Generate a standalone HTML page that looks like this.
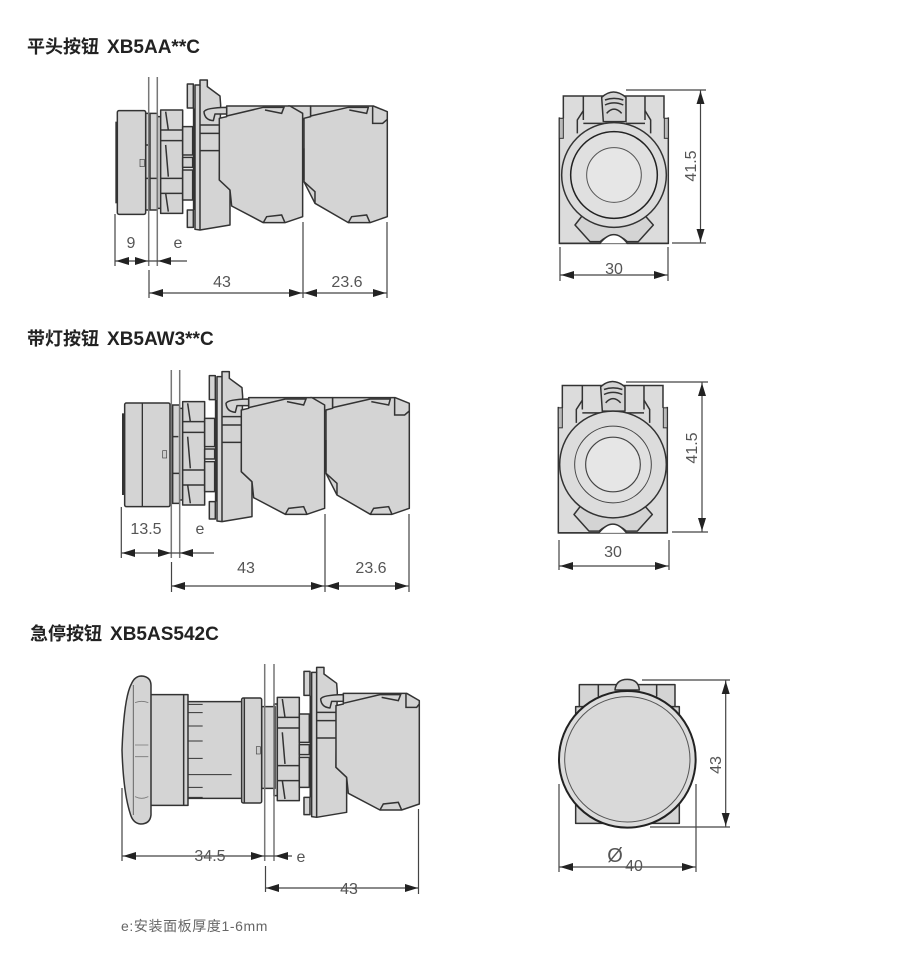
<!DOCTYPE html>
<html><head><meta charset="utf-8"><style>
html,body{margin:0;padding:0;background:#fff;width:900px;height:973px;overflow:hidden}
svg{position:absolute;left:0;top:0;display:block}
.t{font-family:"Liberation Sans","Noto Sans CJK SC",sans-serif;font-weight:700;font-size:18px;fill:#222}
.t tspan{font-size:19px}
.d{font-family:"Liberation Sans",sans-serif;font-size:16px;fill:#555;text-anchor:middle}
.f{fill:#d4d4d4;stroke:#333;stroke-width:4.5;stroke-linejoin:round}
.l{fill:none;stroke:#333;stroke-width:4.5}
.g{stroke:#777;stroke-width:1.5;fill:none}
.k{stroke:#444;stroke-width:1.2;fill:none}
</style></head><body>
<svg width="900" height="973" viewBox="0 0 900 973" xmlns="http://www.w3.org/2000/svg">
<defs>
<g id="rear">
<rect class="f" x="172" y="140" width="10" height="275"/>
<polygon class="f" points="182,120 248,120 248,430 182,430"/>
<path class="l" d="M182,180H248M182,212H248M182,325H248M182,370H248M197,125L205,180M197,370L205,425M197,225L205,320"/>
<rect class="f" x="248" y="170" width="30" height="85"/>
<rect class="f" x="248" y="262" width="30" height="30"/>
<rect class="f" x="248" y="300" width="30" height="90"/>
<rect class="f" x="262" y="42" width="18" height="72"/>
<rect class="f" x="262" y="420" width="18" height="52"/>
<path d="M282,115V420" stroke="#333" stroke-width="7"/>
<polygon class="f" points="285,45 300,45 300,30 322,30 322,50 360,78 362,105 360,190 358,330 390,360 390,465 300,480 285,478"/>
<path class="l" d="M300,45V480M300,190H358M300,242H358M300,165H358"/>
<path class="f" d="M358,145L380,140V108H570L608,130V440L555,458H490L395,408L390,360L358,330Z"/>
<path class="l" d="M380,138L490,112L552,112L545,130L495,120M490,458L500,440L545,435L555,458"/>
<path class="f" d="M312,125Q318,113 380,112V132H345L340,152Q314,150 312,125Z"/>
</g>
<g id="block2">
<path class="f" d="M565,108H632V140L608,150L565,150Z"/>
<path class="f" d="M612,145L632,140V108H820L862,125V440L810,458H745L645,400L612,335Z"/>
<path class="l" d="M632,138L745,112L805,112L800,130L748,120M745,458L755,440L800,435L810,458M818,108V160H848L862,148"/>
<path class="l" d="M612,335L645,365V400"/>
<path d="M609,235H614V330H609Z" fill="#333"/>
</g>
<g id="front">
<rect x="70" y="78" width="302" height="440" fill="#dcdcdc"/>
<rect x="58" y="142" width="327" height="378" fill="#dcdcdc"/>
<path class="l" d="M70,145V78H372V145M130,78V150M315,78V150M58,142V520H385V142"/>
<rect x="58" y="145" width="12" height="60" fill="#bbb" stroke="#333" stroke-width="3"/>
<rect x="373" y="145" width="12" height="60" fill="#bbb" stroke="#333" stroke-width="3"/>
<path class="l" d="M130,122L112,150V190M315,122L332,150V190M130,160H190M258,160H315"/>
<path class="f" d="M185,82Q220,50 258,82V155H190Z"/>
<path class="l" d="M195,90Q222,80 250,90M195,105Q222,92 250,105M200,130Q222,105 245,130"/>
<path class="f" d="M105,465L150,515H180Q222,478 262,515H295L340,465L300,420H140Z"/>
<path d="M58,520H180Q222,468 262,520H385" stroke="#333" stroke-width="4.5" fill="#fff"/>
<circle cx="222" cy="315" r="157" fill="#dcdcdc" stroke="#333" stroke-width="4.5"/>
<circle cx="222" cy="315" r="130" fill="#e0e0e0" stroke="#222" stroke-width="4.5"/>
<circle cx="222" cy="315" r="82" fill="#e6e6e6" stroke="#555" stroke-width="3"/>
</g>
<polygon id="ar" points="0,0 13,-4 13,4" fill="#222"/>
</defs>

<text class="t" x="27" y="53">平头按钮 <tspan dx="3">XB5AA**C</tspan></text>
<text class="t" x="27" y="345">带灯按钮 <tspan dx="3">XB5AW3**C</tspan></text>
<text class="t" x="30" y="640">急停按钮 <tspan dx="3">XB5AS542C</tspan></text>
<text x="121" y="931" style="font-family:'Liberation Sans','Noto Sans CJK SC',sans-serif;font-size:14px;letter-spacing:.6px;fill:#666">e:安装面板厚度1-6mm</text>

<!-- Section 1 side -->
<g transform="translate(100,70) scale(.3333)">
<use href="#block2"/><use href="#rear"/>
<rect class="f" x="137" y="130" width="35" height="290"/>
<path class="l" d="M137,225H150M137,325H170M150,130V420"/>
<rect class="f" x="52" y="122" width="85" height="311" rx="5"/>
<rect x="46" y="155" width="7" height="245" fill="#333"/>
<rect x="120" y="268" width="13" height="22" fill="#ccc" stroke="#444" stroke-width="2"/>
</g>
<!-- Section 2 side -->
<g transform="translate(110,360) scale(.3333)">
<g transform="translate(36,5)"><use href="#block2"/><use href="#rear"/></g>
<rect class="f" x="172" y="135" width="37" height="295"/>
<path class="l" d="M172,230H205M172,340H208M188,135V430"/>
<rect class="f" x="44" y="129" width="136" height="311" rx="5"/>
<path d="M97,129V440" stroke="#333" stroke-width="4"/>
<rect x="36" y="160" width="7" height="245" fill="#333"/>
<rect x="158" y="272" width="12" height="22" fill="#ccc" stroke="#444" stroke-width="2"/>
</g>
<!-- Section 3 side -->
<g transform="translate(100,660) scale(.3333)">
<g transform="translate(350,-8)"><use href="#rear"/>
<path class="l" d="M568,108V150H600L608,140"/></g>
<rect class="f" x="485" y="140" width="40" height="245"/>
<rect class="f" x="262" y="125" width="165" height="290"/>
<path d="M265,133H308M265,158H308M265,198H308M265,243H308M265,295H308M265,344H395M265,382H308M265,412H308" stroke="#333" stroke-width="3"/>
<rect class="f" x="425" y="114" width="60" height="315" rx="5"/>
<path class="l" d="M433,114V429"/>
<rect x="469" y="260" width="12" height="22" fill="#ccc" stroke="#444" stroke-width="2"/>
<rect class="f" x="152" y="104" width="112" height="332"/>
<path class="l" d="M251,104V436"/>
<path class="f" d="M66,270Q72,110 95,70Q105,48 125,48Q152,50 153,75V465Q150,492 122,492Q100,490 92,465Q70,400 66,270Z"/>
<path d="M100,75V465" stroke="#666" stroke-width="3" fill="none"/>
<path d="M105,128Q125,120 145,128M105,255H145M105,290H145M105,410Q125,420 145,410" stroke="#777" stroke-width="2.5" fill="none"/>
</g>

<!-- Front views -->
<g transform="translate(540,70) scale(.3333)"><use href="#front"/></g>
<g transform="translate(539,359.5) scale(.3333)"><use href="#front"/>
<circle cx="222" cy="315" r="160" fill="#dcdcdc" stroke="#333" stroke-width="4.5"/>
<circle cx="222" cy="315" r="115" fill="#e0e0e0" stroke="#444" stroke-width="3"/>
<circle cx="222" cy="315" r="82" fill="#e6e6e6" stroke="#444" stroke-width="3.5"/>
</g>
<g transform="translate(540,660) scale(.3333)">
<rect class="f" x="118" y="74" width="287" height="100"/>
<path class="l" d="M175,74V110M350,74V110"/>
<rect class="f" x="107" y="140" width="311" height="350"/>
<path class="f" d="M225,90Q228,58 262,58Q296,58 298,90Z"/>
<circle cx="262" cy="298" r="205" fill="#dcdcdc" stroke="#222" stroke-width="6"/>
<circle cx="262" cy="298" r="188" fill="#d9d9d9" stroke="#555" stroke-width="3"/>
</g>

<!-- Section 1 dims -->
<path class="g" d="M148.7,77V266M157.3,77V266"/>
<path class="k" d="M115,214V266M115,261H187M149,270V298M149,293H387M303,222V298M387,222V298M626,90H706M672,243H706M700.5,90V243M560,247V281M668,247V281M560,275H668"/>
<use href="#ar" transform="translate(116,261)"/><use href="#ar" transform="translate(148,261) rotate(180)"/><use href="#ar" transform="translate(158,261)"/>
<use href="#ar" transform="translate(150,293)"/><use href="#ar" transform="translate(302,293) rotate(180)"/><use href="#ar" transform="translate(304,293)"/><use href="#ar" transform="translate(386,293) rotate(180)"/>
<use href="#ar" transform="translate(700.5,91) rotate(90)"/><use href="#ar" transform="translate(700.5,242) rotate(-90)"/>
<use href="#ar" transform="translate(561,275)"/><use href="#ar" transform="translate(667,275) rotate(180)"/>
<text class="d" x="131" y="248">9</text><text class="d" x="178" y="248">e</text>
<text class="d" x="222" y="287">43</text><text class="d" x="347" y="287">23.6</text>
<text class="d" x="614" y="274">30</text>
<text class="d" transform="translate(696,166) rotate(-90)">41.5</text>

<!-- Section 2 dims -->
<path class="g" d="M171.3,370V558M179.7,370V558"/>
<path class="k" d="M121.3,507V558M121.3,553H214M171.5,562V592M171.5,586H409M325,514V592M409,514V592M626,382H708M672,532H708M702,382V532M559,540V570M669,540V570M559,566H669"/>
<use href="#ar" transform="translate(122,553)"/><use href="#ar" transform="translate(171,553) rotate(180)"/><use href="#ar" transform="translate(180,553)"/>
<use href="#ar" transform="translate(172,586)"/><use href="#ar" transform="translate(324,586) rotate(180)"/><use href="#ar" transform="translate(326,586)"/><use href="#ar" transform="translate(408,586) rotate(180)"/>
<use href="#ar" transform="translate(702,383) rotate(90)"/><use href="#ar" transform="translate(702,531) rotate(-90)"/>
<use href="#ar" transform="translate(560,566)"/><use href="#ar" transform="translate(668,566) rotate(180)"/>
<text class="d" x="146" y="534">13.5</text><text class="d" x="200" y="534">e</text>
<text class="d" x="246" y="573">43</text><text class="d" x="371" y="573">23.6</text>
<text class="d" x="613" y="557">30</text>
<text class="d" transform="translate(697,448) rotate(-90)">41.5</text>

<!-- Section 3 dims -->
<path class="g" d="M264.7,664V861M274,664V861"/>
<path class="k" d="M122,788V861M122,856H292M265.5,866V892M265.5,888H418.5M418.5,809V894M642,680H730M650,827H730M725.7,680V827M559,784V872M696,784V872M559,867H696"/>
<use href="#ar" transform="translate(123,856)"/><use href="#ar" transform="translate(264,856) rotate(180)"/><use href="#ar" transform="translate(275,856)"/>
<use href="#ar" transform="translate(266,888)"/><use href="#ar" transform="translate(418,888) rotate(180)"/>
<use href="#ar" transform="translate(725.7,681) rotate(90)"/><use href="#ar" transform="translate(725.7,826) rotate(-90)"/>
<use href="#ar" transform="translate(560,867)"/><use href="#ar" transform="translate(695,867) rotate(180)"/>
<text class="d" x="210" y="861">34.5</text><text class="d" x="301" y="862">e</text>
<text class="d" x="349" y="894">43</text>
<text class="d" x="615" y="862" style="font-size:20px">Ø</text><text class="d" x="634" y="871">40</text>
<text class="d" transform="translate(721,765) rotate(-90)">43</text>
</svg>
</body></html>
